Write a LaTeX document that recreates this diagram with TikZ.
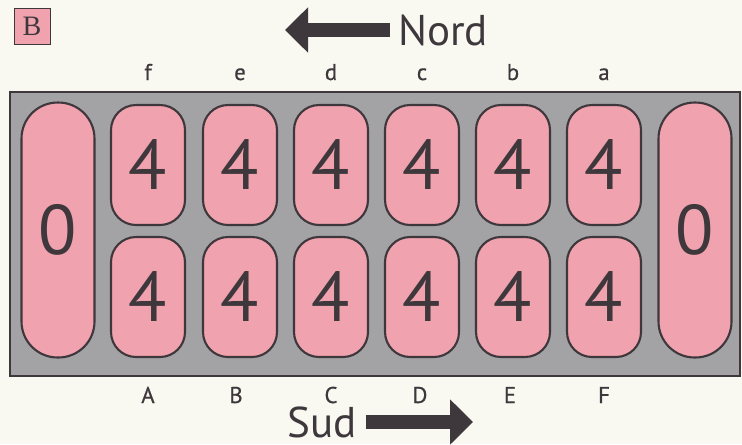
\documentclass[tikz,border=0pt]{standalone}
\usepackage{fontspec}
\setmainfont{PT Sans}
\newfontfamily\serifB{Liberation Serif}
\newfontfamily\lblfont[FakeBold=0.6]{PT Sans}
\definecolor{pitpink}{RGB}{240,162,175}
\definecolor{boardgray}{RGB}{163,162,164}
\definecolor{inkgray}{RGB}{62,56,60}
\definecolor{paper}{RGB}{249,248,241}
\usetikzlibrary{arrows.meta}

\begin{document}
\begin{tikzpicture}[
            x=0.02cm, y=-0.02cm,
            pit/.style={draw=inkgray, line width=1.2pt, fill=pitpink, rectangle,
                       minimum width=1.48cm, minimum height=2.4cm, rounded corners=0.5cm,
                       text=inkgray, font=\fontsize{40}{40}\selectfont},
            store/.style={pit, minimum width=1.46cm, minimum height=5.1cm, rounded corners=0.72cm},
            lbl/.style={text=inkgray, font=\lblfont\fontsize{13}{13}\selectfont, anchor=base},
            dirlbl/.style={text=inkgray, font=\fontsize{24.5}{24.5}\selectfont, inner sep=0pt, anchor=base},
            bigarrow/.style={-{Triangle[width=0.88cm,length=0.46cm]}, line width=8pt, color=inkgray}
        ]
            \fill[paper] (0,0) rectangle (742,444);
            \useasboundingbox (0,0) rectangle (742,444);

            % tag and board
            \node[draw=inkgray, fill=pitpink, minimum size=0.72cm, inner sep=0pt,
                  font=\serifB\fontsize{16}{16}\selectfont, text=inkgray] (tag) at (32,26) {B};
            \node[draw=inkgray, line width=1.1pt, fill=boardgray, rectangle,
                  minimum width=14.6cm, minimum height=5.68cm] (board) at (375,234) {};

            % stores
            \node[store] (storeW) at (58,230) {0};
            \node[store] (storeE) at (695,230) {0};

            % north row
            \node[pit] (f) at (148,165) {4};
            \node[pit] (e) at (240,165) {4};
            \node[pit] (d) at (331,165) {4};
            \node[pit] (c) at (422,165) {4};
            \node[pit] (b) at (513,165) {4};
            \node[pit] (a) at (604,165) {4};

            % south row
            \node[pit] (A) at (148,297) {4};
            \node[pit] (B) at (240,297) {4};
            \node[pit] (C) at (331,297) {4};
            \node[pit] (D) at (422,297) {4};
            \node[pit] (E) at (513,297) {4};
            \node[pit] (F) at (604,297) {4};

            % pit letters
            \node[lbl] at (148,80) {f};
            \node[lbl] at (240,80) {e};
            \node[lbl] at (331,80) {d};
            \node[lbl] at (422,80) {c};
            \node[lbl] at (513,80) {b};
            \node[lbl] at (604,80) {a};
            \node[lbl] at (148,403) {A};
            \node[lbl] at (236,403) {B};
            \node[lbl] at (331,403) {C};
            \node[lbl] at (420,403) {D};
            \node[lbl] at (510,403) {E};
            \node[lbl] at (604,403) {F};

            % directions
            \node[dirlbl] (nord) at (443,45) {Nord};
            \coordinate (nordtip) at (285,30);
            \draw[bigarrow] ([xshift=-0.16cm]nord.west |- nordtip) -- (nordtip);
            \node[dirlbl] (sud) at (322,437) {Sud};
            \coordinate (sudtip) at (473,422);
            \draw[bigarrow] ([xshift=0.18cm]sud.east |- sudtip) -- (sudtip);
        \end{tikzpicture}
\end{document}
